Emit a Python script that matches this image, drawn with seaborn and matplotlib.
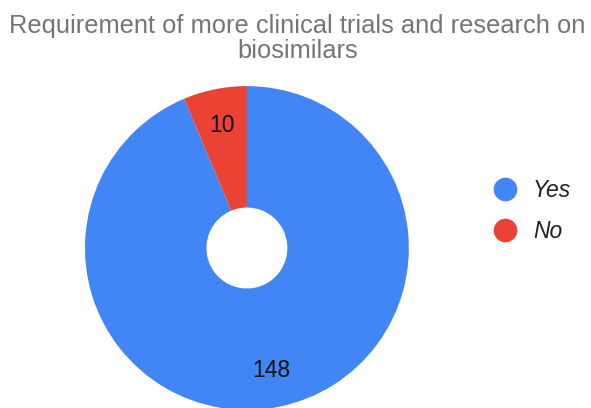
import matplotlib
matplotlib.use("Agg")
import matplotlib.pyplot as plt
import seaborn as sns
from matplotlib.lines import Line2D

# ── Dados ─────────────────────────────────────────────────────────────────
categories = ["Yes", "No"]
counts = [148, 10]
colors = ["#4285F4", "#EA4335"]
title = "Requirement of more clinical trials and research on\nbiosimilars"

sns.set_style("white")
plt.rcParams["font.family"] = ["Liberation Sans", "DejaVu Sans"]

fig = plt.figure(figsize=(5.91, 4.08), dpi=100)
ax = fig.add_axes([0.1438, -0.0049, 0.548, 0.794])

total = sum(counts)
wedges, texts, autotexts = ax.pie(
    counts,
    colors=colors,
    startangle=90,
    counterclock=False,
    radius=1.0,
    wedgeprops=dict(width=0.75, edgecolor="none"),
    autopct=lambda p: f"{round(p * total / 100)}",
    pctdistance=0.77,
    textprops=dict(fontsize=16.5, color="#111111"),
)
ax.set_xlim(-1, 1)
ax.set_ylim(-1, 1)
ax.set_aspect("equal")
ax.axis("off")
for w in wedges:
    w.set_clip_on(False)

fig.text(0.503, 0.965, title, ha="center", va="top", fontsize=18.4,
         color="#757575", linespacing=1.05)

handles = [Line2D([], [], marker="o", linestyle="none", markersize=16,
                  markerfacecolor=c, markeredgecolor=c) for c in colors]
leg = fig.legend(handles, categories, loc="upper left",
                 bbox_to_anchor=(0.801, 0.612), frameon=False,
                 prop=dict(size=16.5, style="italic"), labelspacing=0.8,
                 handletextpad=0.7, handlelength=1.0)
for t in leg.get_texts():
    t.set_color("#222222")

fig.savefig("out.png", dpi=100)
